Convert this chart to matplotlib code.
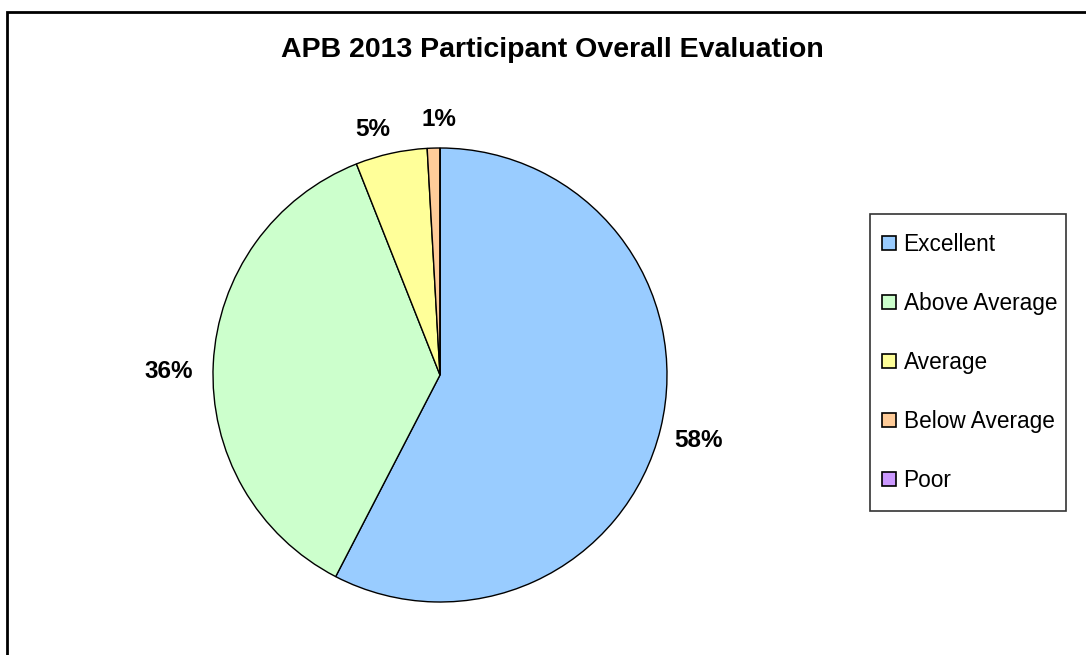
import matplotlib.pyplot as plt
from matplotlib.patches import Patch, Rectangle

plt.rcParams['font.family'] = ['Liberation Sans', 'DejaVu Sans']

# Data
categories = ['Excellent', 'Above Average', 'Average', 'Below Average', 'Poor']
shares = [57.6, 36.4, 5.1, 0.9, 0.0]
colors = ['#99CCFF', '#CCFFCC', '#FFFF99', '#FFCC99', '#CC99FF']

W, H = 1086, 655
fig = plt.figure(figsize=(W / 100, H / 100), dpi=100)

# outer chart border (right and bottom run off the picture)
fig.patches.append(Rectangle((7 / W, -0.05), 1.1, 1 - 12 / H + 0.05,
                             transform=fig.transFigure, fill=False,
                             edgecolor='black', linewidth=2))

ax = fig.add_axes([(440 - 227) / W, (655 - 602) / H, 454 / W, 454 / H])


def pct_label(p):
    return '' if p < 0.5 else '%.0f%%' % p


wedges, texts, autotexts = ax.pie(shares, colors=colors, startangle=90, counterclock=False,
                                  autopct=pct_label, pctdistance=1.17,
                                  wedgeprops=dict(edgecolor='black', linewidth=1))
# small nudges so labels sit where the original put them
nudges = [(0.0, -0.01), (-0.026, -0.044), (-0.044, -0.062), (0.03, -0.044), (0, 0)]
for t, (dx, dy) in zip(autotexts, nudges):
    t.set_fontsize(17.5)
    t.set_fontweight('bold')
    t.set_clip_on(False)
    x, y = t.get_position()
    t.set_position((x + dx, y + dy))
ax.set_xlim(-1, 1)
ax.set_ylim(-1, 1)
ax.set_aspect('equal')

fig.text(552 / W, 1 - 50 / H, 'APB 2013 Participant Overall Evaluation',
         ha='center', va='center', fontsize=20.5, fontweight='bold')

# legend frame drawn separately
fig.patches.append(Rectangle((870 / W, 1 - 511 / H), 196 / W, 297 / H,
                             transform=fig.transFigure, fill=False,
                             edgecolor='#333333', linewidth=1.2))

handles = [Patch(facecolor=c, edgecolor='black', linewidth=1.2) for c in colors]
leg = fig.legend(handles, categories, loc='upper left',
                 bbox_to_anchor=(882 / W, 1 - 233 / H), borderaxespad=0,
                 fontsize=16.3, frameon=False,
                 handlelength=0.6, handleheight=0.6, handletextpad=0.35,
                 labelspacing=1.59, borderpad=0)

fig.savefig('out.png', dpi=100)
